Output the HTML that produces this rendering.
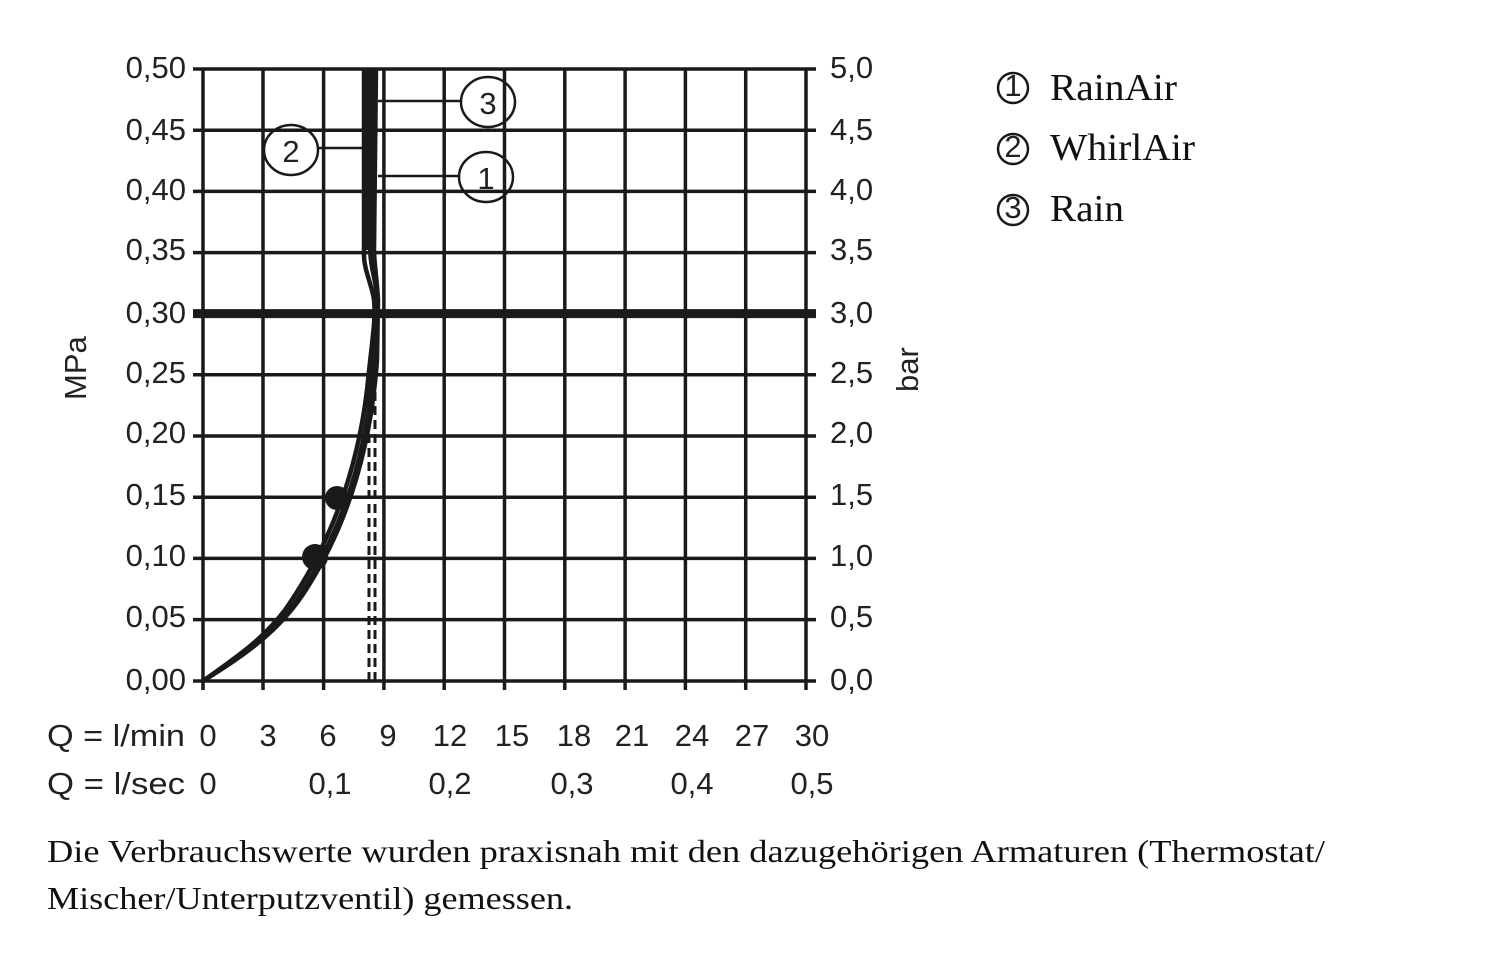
<!DOCTYPE html>
<html><head><meta charset="utf-8"><style>
html,body{margin:0;padding:0;background:#fff;width:1500px;height:956px;overflow:hidden}
svg{display:block}
.a{font-family:"Liberation Sans",sans-serif;font-size:31px;fill:#222}
.s{font-family:"Liberation Serif",serif;fill:#111}
</style></head><body>
<svg width="1500" height="956" viewBox="0 0 1500 956">
<g stroke="#1a1a1a" stroke-width="3.5" fill="none">
<line x1="203" y1="69" x2="203" y2="690"/><line x1="263" y1="69" x2="263" y2="690"/><line x1="323.6" y1="69" x2="323.6" y2="690"/><line x1="383.9" y1="69" x2="383.9" y2="690"/><line x1="444.2" y1="69" x2="444.2" y2="690"/><line x1="504.5" y1="69" x2="504.5" y2="690"/><line x1="564.8" y1="69" x2="564.8" y2="690"/><line x1="625.1" y1="69" x2="625.1" y2="690"/><line x1="685.4" y1="69" x2="685.4" y2="690"/><line x1="745.7" y1="69" x2="745.7" y2="690"/><line x1="806" y1="69" x2="806" y2="690"/>
<line x1="193" y1="69" x2="816" y2="69"/><line x1="193" y1="130.2" x2="816" y2="130.2"/><line x1="193" y1="191.4" x2="816" y2="191.4"/><line x1="193" y1="252.6" x2="816" y2="252.6"/><line x1="193" y1="374.8" x2="816" y2="374.8"/><line x1="193" y1="436" x2="816" y2="436"/><line x1="193" y1="497.2" x2="816" y2="497.2"/><line x1="193" y1="558.4" x2="816" y2="558.4"/><line x1="193" y1="619.6" x2="816" y2="619.6"/><line x1="193" y1="681" x2="816" y2="681"/>
<line x1="193" y1="313.6" x2="816" y2="313.6" stroke-width="9"/>
<line x1="369" y1="681" x2="369" y2="390" stroke-width="3" stroke-dasharray="9,5"/>
<line x1="375" y1="681" x2="375" y2="390" stroke-width="3" stroke-dasharray="9,5"/>
<path d="M203,681 C238,656 262,640 285,610 C320,560 355,490 367,390 C372,340 376,320 374,300 C372,285 364,270 364,255 L364,69" stroke-width="4.5"/>
<path d="M203,681 C245,655 275,635 300,595 C335,540 365,470 373,370 C376,330 377,310 376,290 C374,275 370,265 370,250 L371,69" stroke-width="4"/>
<path d="M203,681 C252,650 282,628 307,588 C342,533 370,460 377,360 L378,300 C377,280 374,262 374,250 L376,69" stroke-width="4.5"/>
<line x1="371" y1="69" x2="371" y2="250" stroke-width="10"/>
<line x1="378" y1="101" x2="461" y2="101" stroke-width="2.5"/>
<line x1="318" y1="148" x2="366" y2="148" stroke-width="2.5"/>
<line x1="378" y1="176" x2="459" y2="176" stroke-width="2.5"/>
<ellipse cx="488" cy="102" rx="27" ry="25" stroke-width="2.5"/>
<ellipse cx="291" cy="150" rx="27" ry="25" stroke-width="2.5"/>
<ellipse cx="486" cy="177" rx="27" ry="25" stroke-width="2.5"/>
<circle cx="1013" cy="88" r="15" stroke-width="2.5"/>
<circle cx="1013" cy="149" r="15" stroke-width="2.5"/>
<circle cx="1013" cy="210" r="15" stroke-width="2.5"/>
</g>
<circle cx="315" cy="557" r="13" fill="#1a1a1a"/>
<circle cx="337" cy="498" r="12" fill="#1a1a1a"/>
<g class="a" text-anchor="middle" font-size="34">
<text x="488" y="114">3</text><text x="291" y="162">2</text><text x="486" y="189">1</text>
</g>
<g class="a" font-size="20" text-anchor="middle">
<text x="1013" y="96">1</text><text x="1013" y="157">2</text><text x="1013" y="218">3</text>
</g>
<g class="s" font-size="38">
<text x="1050" y="100" textLength="127" lengthAdjust="spacingAndGlyphs">RainAir</text><text x="1050" y="160" textLength="145" lengthAdjust="spacingAndGlyphs">WhirlAir</text><text x="1050" y="221" textLength="74" lengthAdjust="spacingAndGlyphs">Rain</text>
</g>
<g class="a" text-anchor="end">
<text x="186" y="78">0,50</text><text x="186" y="140">0,45</text><text x="186" y="200">0,40</text><text x="186" y="260">0,35</text><text x="186" y="323">0,30</text><text x="186" y="383">0,25</text><text x="186" y="443">0,20</text><text x="186" y="505">0,15</text><text x="186" y="566">0,10</text><text x="186" y="627">0,05</text><text x="186" y="690">0,00</text>
</g>
<g class="a">
<text x="830" y="78">5,0</text><text x="830" y="140">4,5</text><text x="830" y="200">4,0</text><text x="830" y="260">3,5</text><text x="830" y="323">3,0</text><text x="830" y="383">2,5</text><text x="830" y="443">2,0</text><text x="830" y="505">1,5</text><text x="830" y="566">1,0</text><text x="830" y="627">0,5</text><text x="830" y="690">0,0</text>
</g>
<text class="a" transform="translate(86,400) rotate(-90)" font-size="29">MPa</text>
<text class="a" transform="translate(918,392) rotate(-90)" font-size="29">bar</text>
<g class="a" text-anchor="middle">
<text x="208" y="746">0</text><text x="268" y="746">3</text><text x="328" y="746">6</text><text x="388" y="746">9</text><text x="450" y="746">12</text><text x="512" y="746">15</text><text x="574" y="746">18</text><text x="632" y="746">21</text><text x="692" y="746">24</text><text x="752" y="746">27</text><text x="812" y="746">30</text>
<text x="208" y="794">0</text><text x="330" y="794">0,1</text><text x="450" y="794">0,2</text><text x="572" y="794">0,3</text><text x="692" y="794">0,4</text><text x="812" y="794">0,5</text>
</g>
<text class="a" x="47" y="746" textLength="138" lengthAdjust="spacingAndGlyphs">Q = l/min</text>
<text class="a" x="47" y="794" textLength="138" lengthAdjust="spacingAndGlyphs">Q = l/sec</text>
<g class="s" font-size="32">
<text x="47" y="862" textLength="1278" lengthAdjust="spacingAndGlyphs">Die Verbrauchswerte wurden praxisnah mit den dazugehörigen Armaturen (Thermostat/</text>
<text x="47" y="909" textLength="526" lengthAdjust="spacingAndGlyphs">Mischer/Unterputzventil) gemessen.</text>
</g>
</svg>
</body></html>
